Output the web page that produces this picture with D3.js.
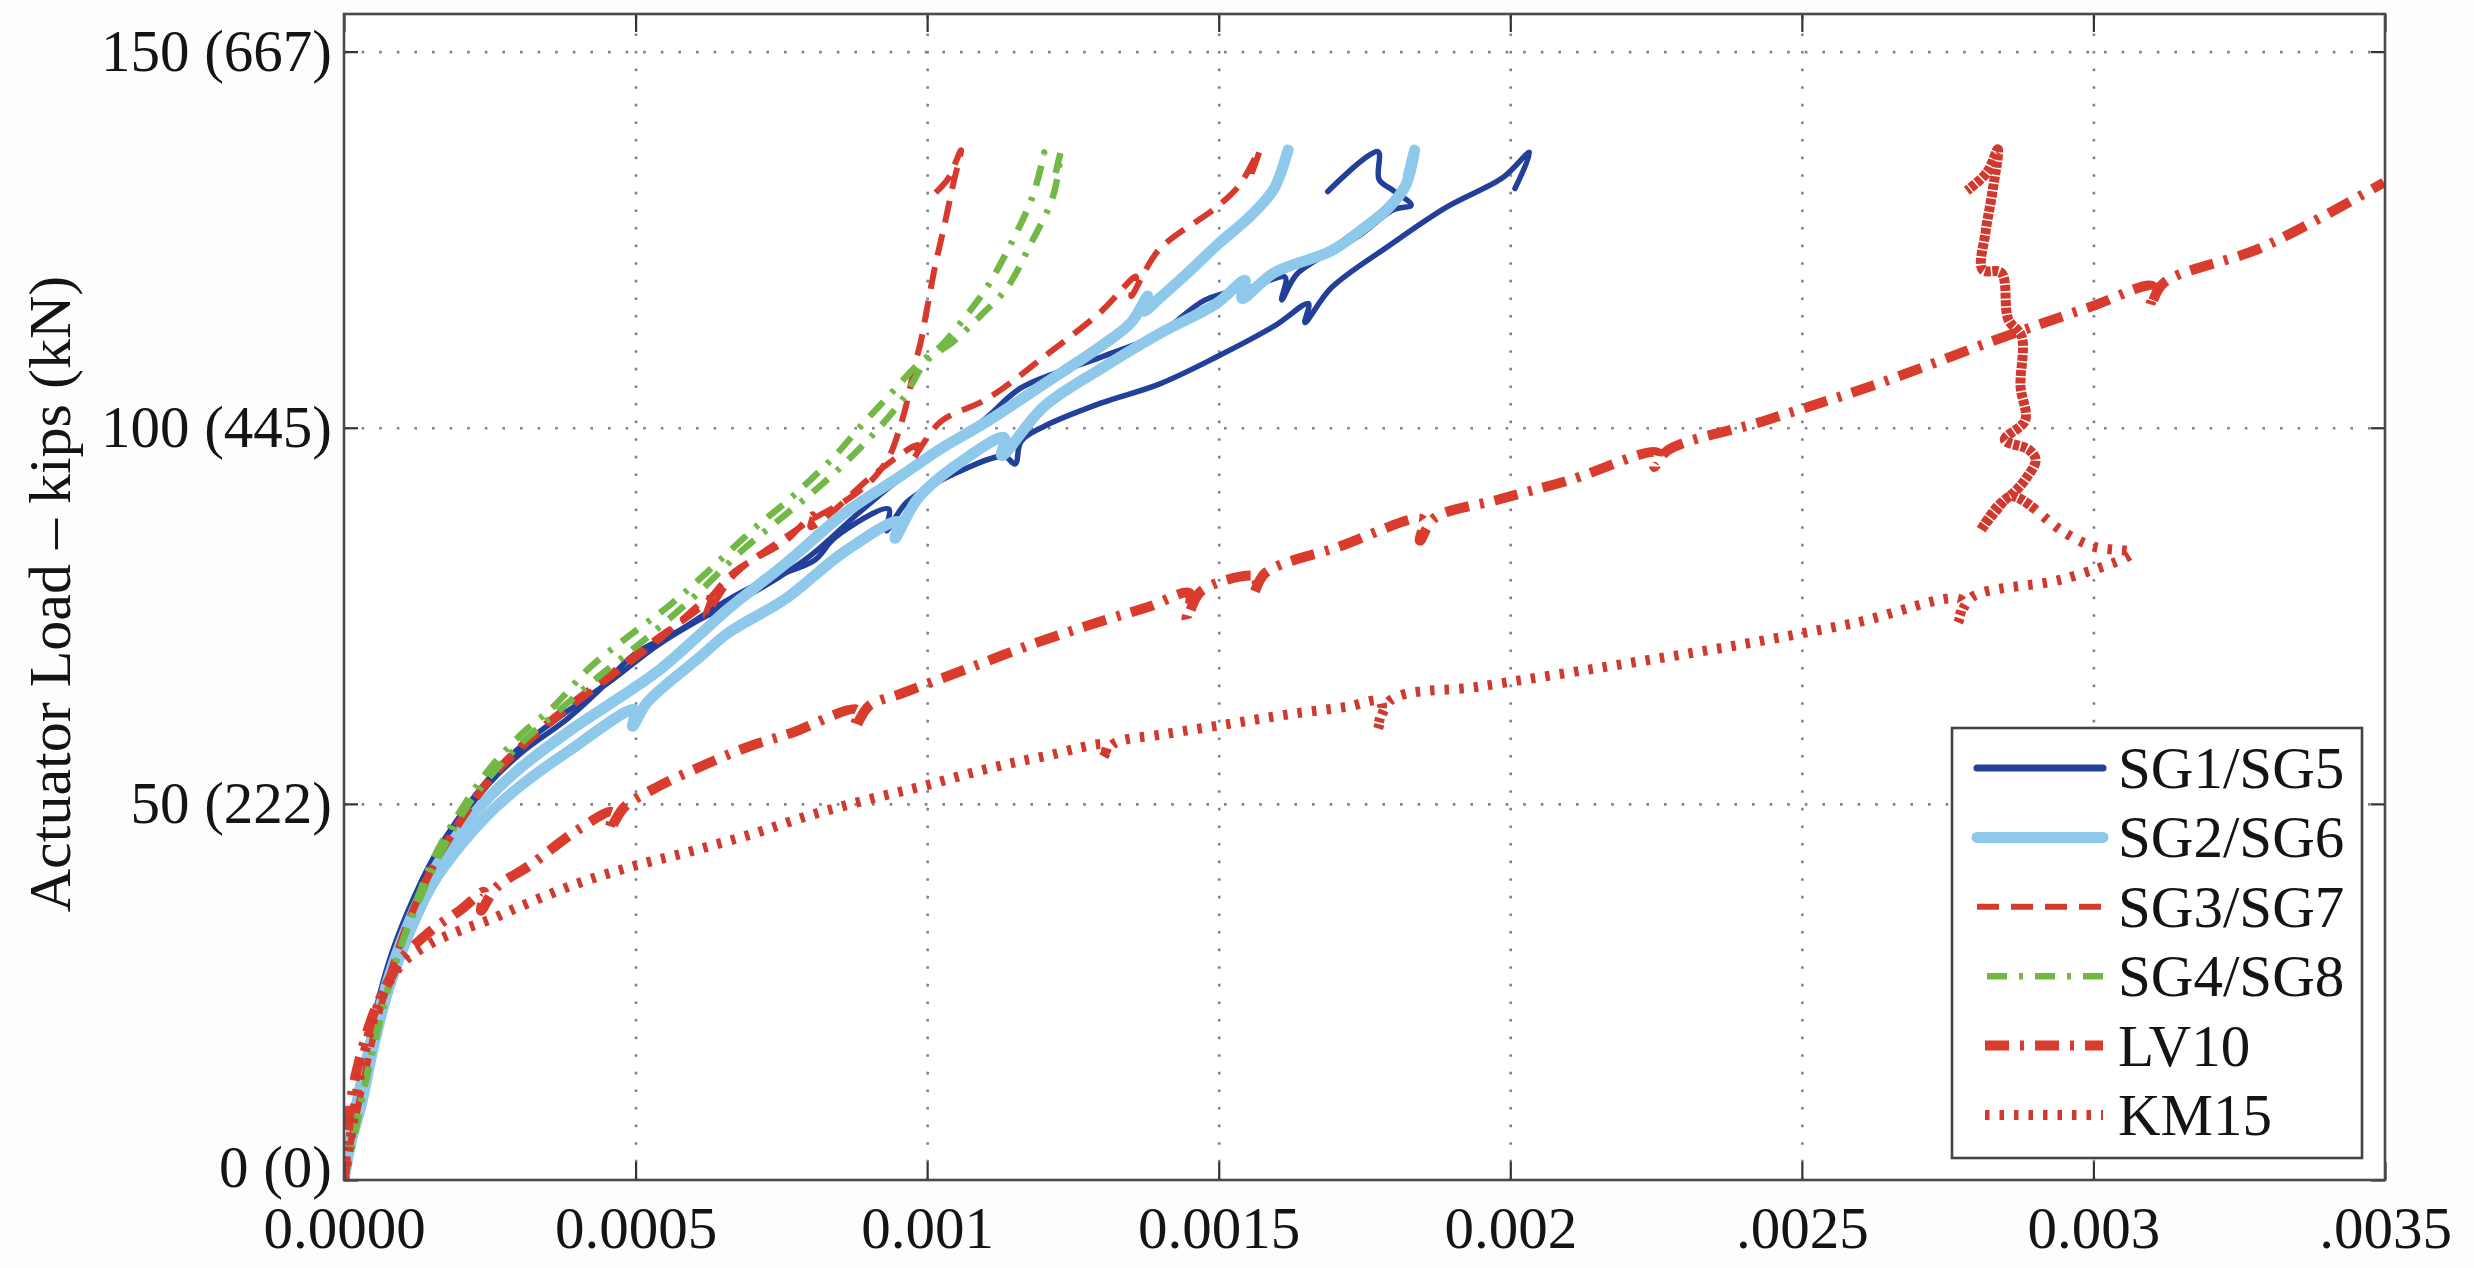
<!DOCTYPE html>
<html><head><meta charset="utf-8">
<script src="https://cdn.jsdelivr.net/npm/d3@7"></script>
<style>
html,body{margin:0;padding:0;background:#fdfdfd;}
svg{display:block;}
text{font-family:"Liberation Serif","Times New Roman",serif;fill:#141414;}
</style></head><body>
<svg id="chart" width="2474" height="1268"></svg>
<script>
// ---- DATA (x: strain ×10^-3, y: actuator load in kips) ----
const xTicks = [0, 0.5, 1, 1.5, 2, 2.5, 3, 3.5];
const xTickLabels = ["0.0000", "0.0005", "0.001", "0.0015", "0.002", ".0025", "0.003", ".0035"];
const yTicks = [0, 50, 100, 150];
const yTickLabels = ["0 (0)", "50 (222)", "100 (445)", "150 (667)"];
const seriesNames = ["SG1/SG5", "SG2/SG6", "SG3/SG7", "SG4/SG8", "LV10", "KM15"];

const sg1 = [[0,0],[0.01,5],[0.023,10.4],[0.045,19],[0.077,28.5],[0.11,35],[0.153,42],[0.2,48],[0.25,52.8],[0.306,56.9],[0.383,61.3],[0.436,65],[0.498,69.9],[0.574,73],[0.651,76.8],[0.727,79.9],[0.807,82.4],[0.842,85.4],[0.934,89.2],[0.93,86.3],[0.965,90.1],[1.053,94.1],[1.132,96.2],[1.151,95.2],[1.161,98.2],[1.201,100.2],[1.299,103.3],[1.398,105.8],[1.496,109.4],[1.595,113.5],[1.654,116.5],[1.648,114],[1.693,118.6],[1.792,124.2],[1.89,129.3],[1.988,133.3],[2.033,136.6],[2.008,131.8]];
const sg5 = [[0,0],[0.01,5.3],[0.023,11],[0.045,19.5],[0.077,29],[0.11,35.8],[0.153,42.8],[0.2,48.5],[0.25,53.5],[0.306,57.8],[0.383,62.3],[0.46,66.5],[0.536,71],[0.61,74.5],[0.709,78.4],[0.8,83],[0.88,88.5],[0.95,93],[1.023,97],[1.1,101.2],[1.161,105.3],[1.299,109.4],[1.398,112.5],[1.477,117],[1.56,118.8],[1.614,120],[1.608,117],[1.635,120.5],[1.74,125.5],[1.8,129],[1.83,129.6],[1.8,131.5],[1.775,133],[1.773,136.7],[1.687,131.4]];
const sg2 = [[0,0],[0.01,5],[0.02,9.5],[0.045,18],[0.077,27],[0.11,34],[0.153,41],[0.2,46.5],[0.25,51],[0.306,55],[0.383,59.5],[0.46,63.5],[0.536,67.5],[0.61,72.5],[0.66,76],[0.758,82],[0.856,88.5],[0.955,93.6],[1.023,97.2],[1.102,100.8],[1.2,105.8],[1.299,110.9],[1.35,114],[1.378,117.5],[1.372,115.5],[1.398,117.2],[1.447,120.6],[1.496,124.2],[1.555,128.2],[1.595,131.8],[1.619,136.9],[1.605,133.5]];
const sg6 = [[0,0],[0.012,5],[0.031,10.4],[0.05,17.5],[0.077,25.5],[0.11,32.5],[0.153,39.5],[0.2,44.5],[0.25,48.8],[0.306,52.6],[0.383,56.9],[0.498,62.5],[0.495,60.3],[0.52,63.5],[0.61,69.5],[0.66,72.8],[0.758,77.3],[0.856,83.4],[0.95,87.5],[0.945,85.3],[0.984,90.6],[1.053,95.2],[1.132,98.7],[1.128,96.3],[1.2,102.8],[1.299,107.9],[1.398,112.5],[1.496,116.5],[1.545,119.6],[1.54,117.2],[1.595,120.6],[1.693,123.5],[1.743,126.2],[1.792,129.3],[1.821,132.3],[1.836,136.9],[1.825,133.5]];
const sg3 = [[0,0],[0.01,4.5],[0.03,12],[0.05,19],[0.077,26.5],[0.11,34],[0.153,41.5],[0.2,47.5],[0.25,53],[0.306,57.5],[0.383,62.5],[0.46,67],[0.536,71.5],[0.628,77.4],[0.62,75],[0.67,80.5],[0.758,85.5],[0.807,88],[0.856,90.1],[0.906,93.1],[0.935,96.2],[0.95,99.2],[0.965,103.3],[0.979,108.4],[0.989,111.4],[0.999,115.5],[1.014,121.6],[1.029,126.7],[1.045,132.5],[1.058,136.9],[1.035,133],[1.004,130.5]];
const sg7 = [[0,0],[0.012,5],[0.035,13.5],[0.055,20.5],[0.077,27],[0.11,34.5],[0.153,42],[0.2,48],[0.25,53.5],[0.306,58],[0.383,63],[0.46,67.5],[0.536,72],[0.61,76],[0.67,80.9],[0.758,85],[0.804,88.5],[0.8,86.8],[0.837,88.8],[0.906,93.6],[0.984,97.7],[0.975,95.8],[1.023,100.8],[1.102,103.8],[1.2,109.4],[1.299,115.5],[1.358,120.1],[1.35,117.5],[1.398,123.7],[1.496,129.3],[1.536,132.3],[1.57,136.9],[1.555,133.5]];
const sg4 = [[0,0],[0.008,2.4],[0.02,7.5],[0.038,13.5],[0.055,19.5],[0.077,26],[0.095,30.5],[0.115,35],[0.153,42.7],[0.207,50],[0.253,55],[0.306,59.4],[0.36,63],[0.42,68],[0.5,73],[0.56,76.5],[0.61,79.9],[0.66,83.5],[0.709,87],[0.758,90.1],[0.807,93.6],[0.847,96.7],[0.886,100.2],[0.935,104.3],[0.984,108.4],[1.024,110.9],[1.063,114.5],[1.102,118.6],[1.142,124.2],[1.181,130.8],[1.201,136.6],[1.19,133]];
const sg8 = [[0,0],[0.01,3],[0.025,8.5],[0.04,14],[0.06,20.5],[0.08,26.5],[0.1,31.5],[0.12,35.5],[0.16,42.5],[0.21,49.5],[0.26,54.5],[0.31,58.5],[0.37,62.5],[0.43,66.5],[0.51,71.5],[0.6,77.5],[0.68,83.5],[0.75,88],[0.82,92.5],[0.9,98.5],[0.96,104],[0.999,108.9],[1.044,111.4],[1.093,115],[1.137,118.6],[1.176,124.2],[1.216,130.8],[1.229,136.6],[1.218,133]];
const lv10 = [[0,0],[0.006,6],[0.015,12],[0.03,17],[0.05,22],[0.077,26.5],[0.1,29.5],[0.15,33.2],[0.2,35.9],[0.24,38.3],[0.235,35.8],[0.26,38.8],[0.322,42],[0.398,46.4],[0.46,48.9],[0.455,46.5],[0.48,49.5],[0.536,52.2],[0.613,55],[0.69,57.5],[0.766,59.4],[0.88,62.5],[0.875,60],[0.9,63],[0.957,64.7],[1.07,68],[1.19,71.5],[1.3,74.3],[1.38,76.2],[1.45,78],[1.445,74.5],[1.47,78.3],[1.565,80.2],[1.56,78],[1.58,80.7],[1.707,84.2],[1.849,87.8],[1.845,85],[1.87,88],[1.977,90.4],[2.1,93],[2.252,96.7],[2.247,94.8],[2.27,97],[2.439,101],[2.636,106],[2.833,111.7],[2.996,116.1],[3.102,118.8],[3.097,116],[3.12,119.2],[3.29,124],[3.498,132.6]];
const km15 = [[0,0],[0.012,6],[0.03,15],[0.06,23.5],[0.1,28.8],[0.15,31.5],[0.2,33.2],[0.25,34.6],[0.3,36.3],[0.4,39.4],[0.5,41.8],[0.6,43.8],[0.7,46],[0.8,48.5],[0.9,50.6],[1.0,52.5],[1.1,54.6],[1.2,56.3],[1.308,57.8],[1.3,56],[1.32,58],[1.41,59.3],[1.523,60.7],[1.62,61.9],[1.72,62.9],[1.778,63.6],[1.772,59.8],[1.795,63.8],[1.948,65.6],[2.162,68.2],[2.375,70.9],[2.588,74],[2.773,77.1],[2.767,74],[2.79,77.4],[2.944,79.8],[3.057,82.8],[3.066,83.4],[3.0,84.2],[2.944,86.4],[2.901,89.1]];
const km15Return = [[2.901,89.1],[2.86,90.9],[2.83,88.7],[2.807,86.4],[2.835,89.5],[2.865,91.5],[2.883,93.1],[2.901,95.7],[2.889,97.1],[2.848,98.4],[2.883,101],[2.875,105.5],[2.877,112.1],[2.854,114.4],[2.842,120.6],[2.81,121],[2.815,126],[2.826,131],[2.836,137],[2.818,134],[2.783,131.5]];

const seriesCurves = [[sg1, sg5], [sg2, sg6], [sg3, sg7], [sg4, sg8], [lv10], [km15]];

// ---- STYLES ----
const styles = [
  {color:"#22409a", width:5.5, dash:null},
  {color:"#8ec9ec", width:11,  dash:null},
  {color:"#d73a2c", width:6,   dash:"22,12"},
  {color:"#72b844", width:6.5, dash:"20,12,4,12"},
  {color:"#d93b2c", width:10,  dash:"24,11,4,11"},
  {color:"#d0392e", width:10,  dash:"4.5,10"}
];

const W = 2474, H = 1268;
const M = {left:344, right:2385, top:14, bottom:1180};
const x = d3.scaleLinear().domain([0, 3.5]).range([M.left, M.right]);
const y = d3.scaleLinear().domain([0, 155]).range([M.bottom, M.top]);

const svg = d3.select("#chart");
svg.append("rect").attr("width", W).attr("height", H).attr("fill", "#fdfdfd");
svg.append("rect").attr("x", M.left).attr("y", M.top)
  .attr("width", M.right - M.left).attr("height", M.bottom - M.top).attr("fill", "#ffffff");

// grid
const gridX = svg.append("g").attr("transform", `translate(0,${M.bottom})`)
  .call(d3.axisBottom(x).tickValues(xTicks.slice(1, -1)).tickSize(-(M.bottom - M.top)).tickFormat(""));
const gridY = svg.append("g").attr("transform", `translate(${M.left},0)`)
  .call(d3.axisLeft(y).tickValues(yTicks.slice(1)).tickSize(-(M.right - M.left)).tickFormat(""));
[gridX, gridY].forEach(g => {
  g.select(".domain").remove();
  g.selectAll("line").attr("stroke", "#7c8294").attr("stroke-width", 2.6).attr("stroke-dasharray", "2.6,15");
});

// clip
svg.append("clipPath").attr("id", "clip").append("rect")
  .attr("x", M.left).attr("y", M.top).attr("width", M.right - M.left).attr("height", M.bottom - M.top);

const line = d3.line().x(d => x(d[0])).y(d => y(d[1])).curve(d3.curveCatmullRom.alpha(0.5));
const plot = svg.append("g").attr("clip-path", "url(#clip)");

function styled(sel, s) {
  sel.attr("fill", "none").attr("stroke", s.color).attr("stroke-width", s.width)
    .attr("stroke-linejoin", "round")
    .attr("stroke-linecap", s.dash ? "butt" : "round");
  if (s.dash) sel.attr("stroke-dasharray", s.dash);
  return sel;
}

seriesCurves.forEach((curves, i) => {
  curves.forEach(c => {
    styled(plot.append("path").datum(c).attr("d", line), styles[i]);
  });
});
// KM15 return segment: dense data makes the dotted line appear nearly solid
styled(plot.append("path").datum(km15Return).attr("d", line), styles[5]).attr("stroke-dasharray", "6,1.5");

// axes (inward ticks on all sides)
const xAxis = svg.append("g").attr("transform", `translate(0,${M.bottom})`)
  .call(d3.axisBottom(x).tickValues(xTicks).tickSize(-18).tickPadding(26).tickFormat((d, i) => xTickLabels[i]));
const xTop = svg.append("g").attr("transform", `translate(0,${M.top})`)
  .call(d3.axisTop(x).tickValues(xTicks).tickSize(-18).tickFormat(""));
const yAxis = svg.append("g").attr("transform", `translate(${M.left},0)`)
  .call(d3.axisLeft(y).tickValues(yTicks).tickSize(-14).tickPadding(12).tickFormat((d, i) => yTickLabels[i]));
const yRight = svg.append("g").attr("transform", `translate(${M.right},0)`)
  .call(d3.axisRight(y).tickValues(yTicks).tickSize(-14).tickFormat(""));
[xAxis, xTop, yAxis, yRight].forEach(g => {
  g.select(".domain").remove();
  g.selectAll("line").attr("stroke", "#333").attr("stroke-width", 2.2);
  g.selectAll("text").attr("font-size", 59).attr("fill", "#141414");
});
// lift the "0 (0)" label slightly so it does not sit on the x labels
yAxis.selectAll(".tick text").filter(d => d === 0).attr("y", -12);

// frame
svg.append("rect").attr("x", M.left).attr("y", M.top)
  .attr("width", M.right - M.left).attr("height", M.bottom - M.top)
  .attr("fill", "none").attr("stroke", "#4a4a4a").attr("stroke-width", 2.6);

// y title
svg.append("text").attr("transform", "translate(70,594) rotate(-90)")
  .attr("text-anchor", "middle").attr("font-size", 60).text("Actuator Load – kips (kN)");

// legend
const L = {x:1952, y:728, w:410, h:430};
const lg = svg.append("g");
lg.append("rect").attr("x", L.x).attr("y", L.y).attr("width", L.w).attr("height", L.h)
  .attr("fill", "#ffffff").attr("stroke", "#444").attr("stroke-width", 2.6);
seriesNames.forEach((n, i) => {
  const ry = L.y + 40 + i * 69.4;
  const ln = lg.append("line").attr("x1", L.x + 25).attr("x2", L.x + 151).attr("y1", ry).attr("y2", ry);
  styled(ln, styles[i]);
  if (i === 0) ln.attr("stroke-width", 7);
  if (i === 4 || i === 5) ln.attr("stroke-dashoffset", -8);
  if (i === 3) ln.attr("stroke-dashoffset", -10);
  lg.append("text").attr("x", L.x + 166).attr("y", ry + 20).attr("font-size", 59).text(n);
});
</script>
</body></html>
